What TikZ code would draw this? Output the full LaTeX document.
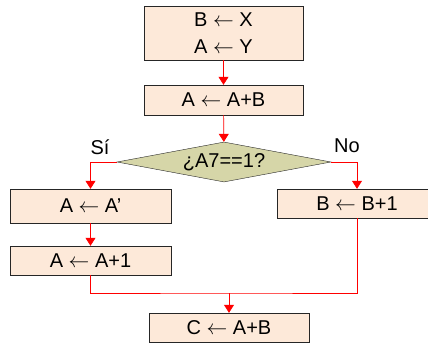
\documentclass[tikz,border=0pt]{standalone}
\usepackage{fontspec}
\setmainfont{Liberation Sans}
\usetikzlibrary{arrows.meta,shapes.geometric}
\definecolor{softpeach}{RGB}{253,233,217}
\definecolor{softolive}{RGB}{214,214,168}
\newcommand{\assign}{\ensuremath{\leftarrow}}

\begin{document}
\begin{tikzpicture}[x=1pt,y=-1pt,every node/.style={font=\fontsize{20}{27}\selectfont,align=center,inner sep=0pt},
  opbox/.style={draw=black!85,fill=softpeach,minimum width=160pt,minimum height=29pt},
  testbox/.style={draw=black!85,fill=softolive,diamond,aspect=5.35,minimum width=214pt,minimum height=40pt,inner sep=0pt},
  link/.style={red,line width=0.7pt},
  flow/.style={link,-{Triangle[length=8pt,width=10pt]}}]
\useasboundingbox (0,0) rectangle (428,345);
\node[opbox,minimum width=159pt,minimum height=54pt] (init) at (223.5,33) {B \assign{} X\\A \assign{} Y};
\node[opbox,minimum width=159pt,minimum height=30pt] (sum) at (223.5,100) {A \assign{} A+B};
\node[testbox] (test) at (224,162) {¿A7==1?};
\node[opbox,minimum width=161pt,minimum height=34pt] (neg) at (90.5,206) {A \assign{} A’};
\node[opbox] (incb) at (357,203.5) {B \assign{} B+1};
\node[opbox,minimum width=161pt] (inca) at (90.5,260.5) {A \assign{} A+1};
\node[opbox] (fin) at (229,327.5) {C \assign{} A+B};
\node (yes) at (100,147) {Sí};
\node (no) at (347,146) {No};
\coordinate (merge) at (229,293);
\draw[flow] (init) -- (sum);
\draw[flow] (sum) -- (test);
\draw[flow] (test.west) -| (neg);
\draw[flow] (test.east) -| (incb);
\draw[flow] (neg) -- (inca);
\draw[link] (inca.south) |- (merge) -| (incb.south);
\draw[flow] (merge) -- (fin);
\end{tikzpicture}
\end{document}
